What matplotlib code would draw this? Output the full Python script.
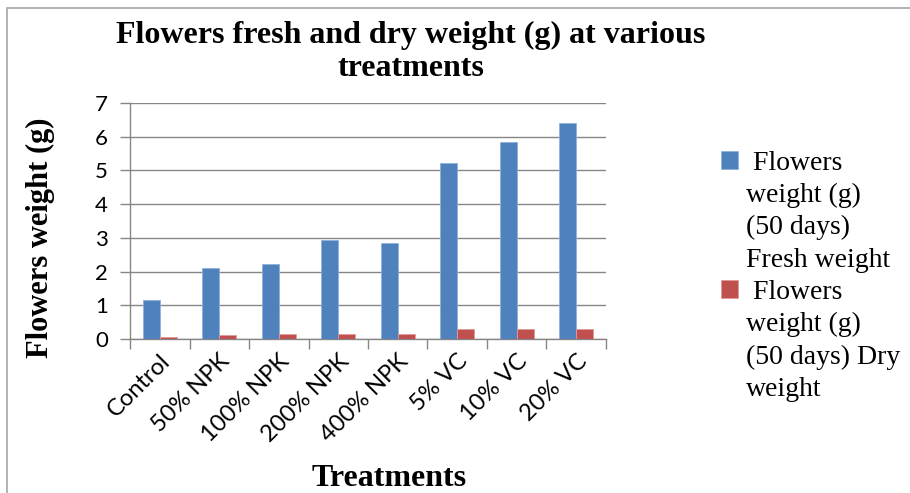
import matplotlib
matplotlib.use("Agg")
import matplotlib.pyplot as plt
import numpy as np

treatments = ["Control", "50% NPK", "100% NPK", "200% NPK", "400% NPK", "5% VC", "10% VC", "20% VC"]
fresh_weight = [1.16, 2.11, 2.23, 2.92, 2.85, 5.21, 5.84, 6.41]
dry_weight = [0.07, 0.13, 0.14, 0.16, 0.16, 0.31, 0.29, 0.31]
label_fresh = [" Flowers", "weight (g)", "(50 days)", "Fresh weight"]
label_dry = [" Flowers", "weight (g)", "(50 days) Dry", "weight"]

serif = "Liberation Serif"
sans = "Lato"

fig = plt.figure(figsize=(9.1, 4.93), dpi=100)
# chart area border (only left/top visible in the crop)
fig.add_artist(plt.Rectangle((7 / 910, -0.1), 1.1, 1.1 - 8 / 493, transform=fig.transFigure,
                             fill=False, edgecolor="#a6a6a6", linewidth=1.2))
ax = fig.add_axes([0.1429, 0.3124, 0.523, 0.479])

x = np.arange(len(treatments))
w = 0.285
b1 = ax.bar(x - w / 2, fresh_weight, w, color="#4f81bd", edgecolor="#8eb0dc", linewidth=0.6, zorder=3)
b2 = ax.bar(x + w / 2, dry_weight, w, color="#c0504d", edgecolor="#e09a98", linewidth=0.6, zorder=3)

ax.set_xlim(-0.5, len(treatments) - 0.5)
ax.set_ylim(0, 7)
ax.set_yticks(range(8))
ax.yaxis.grid(True, color="#868686", linewidth=1.0, zorder=0)
ax.set_xticks(np.arange(len(treatments) + 1) - 0.5)
ax.set_xticklabels([])
ax.set_xticks(x, minor=True)
ax.set_xticklabels(treatments, minor=True, rotation=45, ha="right", va="top",
                   rotation_mode="anchor", fontsize=17, family=sans)
ax.tick_params(axis="x", which="minor", length=0, pad=8)
ax.tick_params(axis="x", which="major", length=7, color="#868686", width=1)
ax.tick_params(axis="y", length=7, color="#868686", width=1, labelsize=16, pad=9)
for lab in ax.get_yticklabels():
    lab.set_family(sans)
for s in ["top", "right"]:
    ax.spines[s].set_visible(False)
for s in ["left", "bottom"]:
    ax.spines[s].set_color("#868686")
    ax.spines[s].set_linewidth(1)

fig.text(411 / 910, 1 - 52 / 493, "Flowers fresh and dry weight (g) at various\ntreatments", fontsize=23,
         fontweight="bold", family=serif, ha="center", va="center", linespacing=1.22)
fig.text(40 / 910, 1 - 238 / 493, "Flowers weight (g)", fontsize=22, fontweight="bold", family=serif,
         rotation=90, ha="center", va="center")
fig.text(389 / 910, 1 - 478 / 493, "Treatments", fontsize=23, fontweight="bold", family=serif,
         ha="center", va="center")

# legend: series handle on the first line, blank handles for wrapped lines
blank = plt.Rectangle((0, 0), 1, 1, fc="none", ec="none")
handles = [b1] + [blank] * 3 + [b2] + [blank] * 3
labels = label_fresh + label_dry
fig.legend(handles=handles, labels=labels, loc="upper left", bbox_to_anchor=(0.78, 0.717),
           frameon=False, prop={"family": serif, "size": 20}, handlelength=0.6, handleheight=0.6,
           handletextpad=0.3, labelspacing=0.26, borderaxespad=0)

fig.savefig("out.png", dpi=100)
